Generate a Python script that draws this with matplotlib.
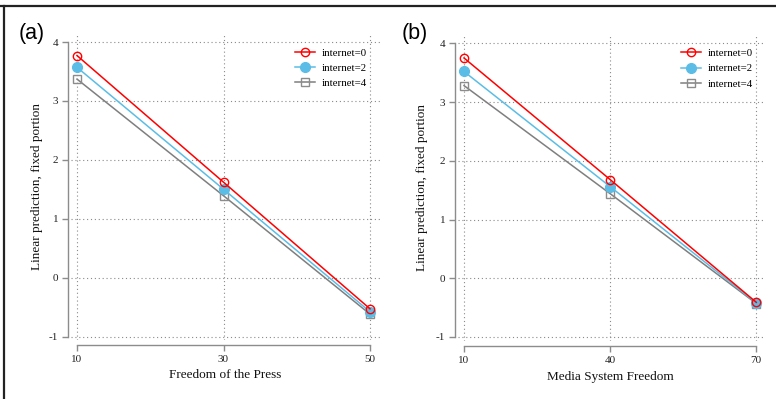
import matplotlib
matplotlib.use("Agg")
import matplotlib.pyplot as plt
from matplotlib.lines import Line2D

plt.rcParams["axes.unicode_minus"] = False

# ---- data ----
press_x = [10, 30, 50]
press_int0 = [3.77, 1.62, -0.53]
press_int2 = [3.57, 1.50, -0.58]
press_int4 = [3.37, 1.39, -0.62]

media_x = [10, 40, 70]
media_int0 = [3.75, 1.68, -0.41]
media_int2 = [3.52, 1.56, -0.42]
media_int4 = [3.28, 1.44, -0.43]

series_labels = ["internet=0", "internet=2", "internet=4"]
y_ticks = [-1, 0, 1, 2, 3, 4]

W, H = 776, 399
fig = plt.figure(figsize=(W / 100, H / 100), dpi=100)
fig.patch.set_facecolor("white")

serif = ["Liberation Serif", "DejaVu Serif"]

def px_axes(l, r, t, b):
    return fig.add_axes([l / W, (H - b) / H, (r - l) / W, (b - t) / H])

def setup(ax, xs, s0, s2, s4, xlabel, box, xpx, ypx, panel, ylab_x, xlab_y, leg_xy):
    l, r, t, b = box
    x0p, x1p = xpx
    xa, xb = xs[0], xs[-1]
    sx = (x1p - x0p) / (xb - xa)
    ax.set_xlim(xa - (x0p - l) / sx, xb + (r - x1p) / sx)
    y4p, ym1p = ypx
    sy = (ym1p - y4p) / 5.0
    ax.set_ylim(-1 - (b - ym1p) / sy, 4 + (y4p - t) / sy)

    ax.plot(xs, s0, color="#ff0000", lw=1.1, marker="o", ms=6, mfc="none",
            mec="#ff0000", mew=1.0, label=series_labels[0], zorder=4)
    ax.plot(xs, s2, color="#5bbde6", lw=1.1, marker="o", ms=7, mfc="#5bbde6",
            mec="#5bbde6", label=series_labels[1], zorder=3)
    ax.plot(xs, s4, color="#7f7f7f", lw=1.1, marker="s", ms=5.5, mfc="none",
            mec="#8c8c8c", mew=1.0, label=series_labels[2], zorder=2)

    ax.set_xticks(xs)
    ax.set_yticks(y_ticks)
    ax.grid(True, linestyle=(0, (1, 2.5)), color="#8a8a8a", lw=0.8)
    ax.set_axisbelow(True)
    for sp in ["top", "right"]:
        ax.spines[sp].set_visible(False)
    ax.spines["left"].set_position(("outward", 2.2))
    ax.spines["bottom"].set_position(("outward", 3.8))
    ax.spines["left"].set_bounds(-1, 4)
    ax.spines["bottom"].set_bounds(xs[0], xs[-1])
    for sp in ["left", "bottom"]:
        ax.spines[sp].set_color("#8c8c8c")
        ax.spines[sp].set_linewidth(1.0)
    ax.tick_params(axis="both", colors="#8c8c8c", length=4, width=1.0,
                   labelsize=8, labelcolor="#222222", pad=3)
    for lab in ax.get_xticklabels() + ax.get_yticklabels():
        lab.set_family(serif)
    ax.set_xlabel(xlabel, fontsize=9.5, family=serif, color="#111111")
    ax.set_ylabel("Linear prediction, fixed portion", fontsize=9.5,
                  family=serif, color="#111111")
    ax.yaxis.set_label_coords((ylab_x - l) / (r - l), 0.5)
    ax.xaxis.set_label_coords(0.5, (b - xlab_y) / (b - t))
    ax.xaxis.label.set_va("center")
    ax.yaxis.label.set_va("center")
    lx, ly = leg_xy
    ax.legend(loc="upper left", frameon=False,
              prop={"family": serif, "size": 7.8},
              handlelength=1.8, handletextpad=0.65, labelspacing=0.53,
              borderaxespad=0, borderpad=0,
              bbox_to_anchor=((lx - l) / (r - l), (b - ly) / (b - t)))
    fig.text(panel[1] / W, 1 - panel[2] / H, panel[0], fontsize=15.5,
             family=["Liberation Sans", "DejaVu Sans"], ha="center",
             va="center")

ax1 = px_axes(71, 380, 33, 340)
setup(ax1, press_x, press_int0, press_int2, press_int4, "Freedom of the Press",
      (71, 380, 33, 340), (77, 370), (42, 336.5), ("(a)", 32, 33), 37, 375,
      (295, 48))

ax2 = px_axes(458, 763, 34, 341)
setup(ax2, media_x, media_int0, media_int2, media_int4, "Media System Freedom",
      (458, 763, 34, 341), (464, 756.3), (43.3, 337), ("(b)", 415, 33), 422, 377,
      (681, 48.5))

# outer frame lines (top and left)
fig.add_artist(Line2D([0, 1], [1 - 6 / H, 1 - 6 / H], transform=fig.transFigure,
                      color="#222222", lw=1.6))
fig.add_artist(Line2D([4 / W, 4 / W], [0, 1 - 6 / H], transform=fig.transFigure,
                      color="#222222", lw=1.6))

fig.savefig("out.png", dpi=100)
